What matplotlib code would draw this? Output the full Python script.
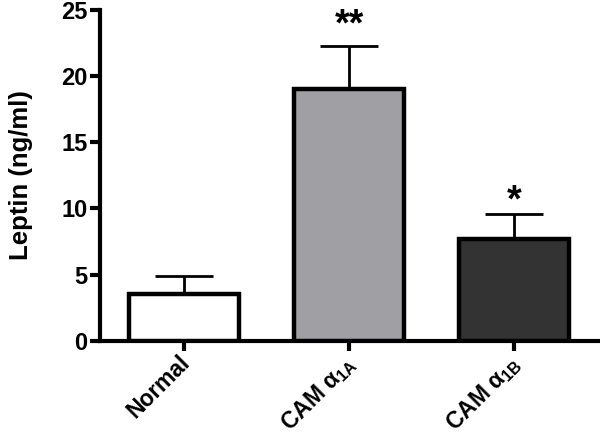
import matplotlib
matplotlib.use("Agg")
import matplotlib.pyplot as plt
import matplotlib.transforms as mtransforms

categories = ["Normal", r"CAM $\mathregular{\alpha_{1A}}$", r"CAM $\mathregular{\alpha_{1B}}$"]
means = [3.5, 19.0, 7.7]
errors = [1.4, 3.3, 1.85]
colors = ["#FFFFFF", "#A0A0A4", "#333333"]
stars = ["", "**", "*"]
star_y = [0, 23.8, 10.5]
yticks = [0, 5, 10, 15, 20, 25]

plt.rcParams['font.family'] = ['Liberation Sans', 'DejaVu Sans']
plt.rcParams['font.weight'] = 'bold'

fig = plt.figure(figsize=(6, 4.41), dpi=100)
ax = fig.add_axes([0.1667, 0.2274, 0.8333, 0.75])

x = list(range(len(categories)))
ax.bar(x, means, width=0.67, color=colors, edgecolor='black', linewidth=3.2, zorder=3)
ax.errorbar(x, means, yerr=[[0]*3, errors], fmt='none', ecolor='black',
            elinewidth=2, capsize=21, capthick=2, zorder=2)
for xi, sy, s in zip(x, star_y, stars):
    if s:
        ax.text(xi, sy, s, ha='center', va='center', fontsize=27, fontweight='bold')

ax.set_xlim(-0.51, 2.52)
ax.set_ylim(0, 25)
ax.set_yticks(yticks)
ax.set_yticklabels([str(t) for t in yticks], fontsize=17, fontweight='bold')
ax.set_xticks(x)
ax.set_xticklabels(categories, rotation=45, ha='right', rotation_mode='anchor',
                   fontsize=16.5, fontweight='bold')
ax.set_ylabel("Leptin (ng/ml)", fontsize=18.5, fontweight='bold', labelpad=20)

for side in ['top', 'right']:
    ax.spines[side].set_visible(False)
for side in ['left', 'bottom']:
    ax.spines[side].set_linewidth(3)
ax.tick_params(axis='both', width=3, length=7)
ax.tick_params(axis='y', pad=2)
ax.tick_params(axis='x', pad=2)

offset = mtransforms.ScaledTranslation(-6/100, 2/100, fig.dpi_scale_trans)
for lbl in ax.get_xticklabels():
    lbl.set_transform(lbl.get_transform() + offset)

fig.savefig("out.png", dpi=100)
